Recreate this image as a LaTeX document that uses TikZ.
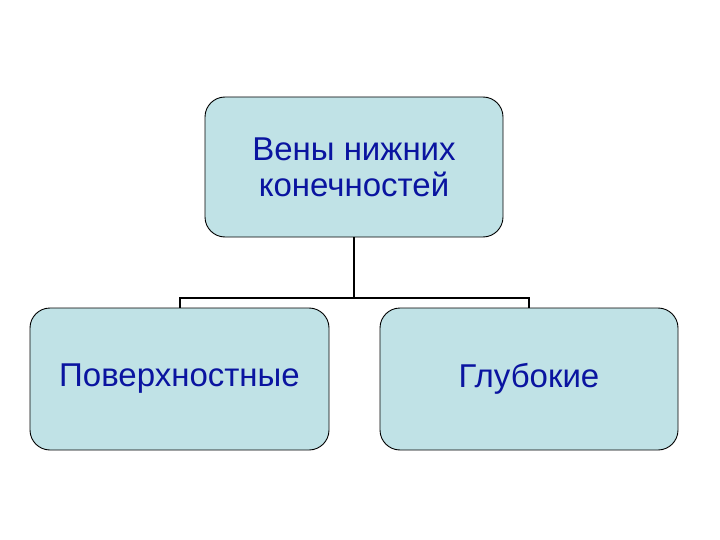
\documentclass[tikz,border=0pt]{standalone}
\usepackage{fontspec}
\setmainfont{Liberation Sans}
\definecolor{boxfill}{HTML}{C0E2E6}
\definecolor{txt}{HTML}{0A14A0}
\begin{document}
\begin{tikzpicture}[x=1pt,y=-1pt,
  box/.style={draw=black, line width=0.9pt, fill=boxfill, rounded corners=20pt, inner sep=0pt, text=txt, align=center, font=\fontsize{33}{36}\selectfont},
  conn/.style={draw=black, line width=2pt}]
\useasboundingbox (0,0) rectangle (720,540);
\node[box, minimum width=298pt, minimum height=140pt] (top) at (354,167) {Вены нижних\\конечностей};
\node[box, minimum width=299pt, minimum height=142pt] (left) at (179.5,379) {Поверхностные};
\node[box, minimum width=298pt, minimum height=142pt] (right) at (529,379) {Глубокие};
\coordinate (j) at (354,298);
\draw[conn] (top.south) -- (j);
\draw[conn] (left.north) ++(0.5,0) |- (j) -| (right.north);
\end{tikzpicture}
\end{document}
